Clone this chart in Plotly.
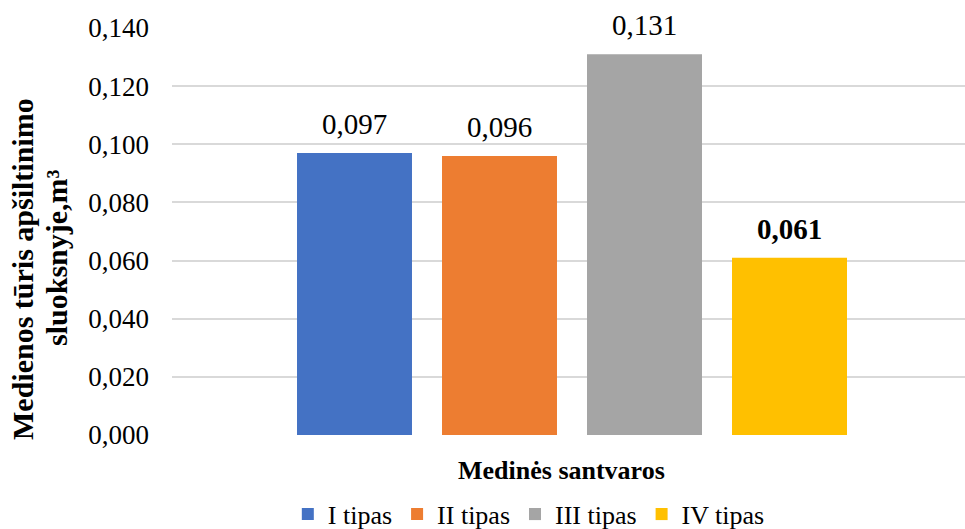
import plotly.graph_objects as go

# Data
group_title = "Medinės santvaros"
series_names = ["I tipas", "II tipas", "III tipas", "IV tipas"]
values = [0.097, 0.096, 0.131, 0.061]
colors = ["#4472C4", "#ED7D31", "#A5A5A5", "#FFC000"]
bold_label = [False, False, False, True]
y_ticks = [0.0, 0.02, 0.04, 0.06, 0.08, 0.10, 0.12, 0.14]

FONT = "Liberation Serif"
BAR_WIDTH = 0.793  # fraction of each series slot

fig = go.Figure()
annotations = []
for i, (name, v, c, b) in enumerate(zip(series_names, values, colors, bold_label)):
    fig.add_trace(go.Bar(
        name=name,
        x=[i],
        y=[v],
        width=BAR_WIDTH,
        marker=dict(color=c, line=dict(width=0)),
        hoverinfo="name+y",
    ))
    label = f"{v:.3f}".replace(".", ",")
    annotations.append(dict(
        text=f"<b>{label}</b>" if b else label,
        x=i, y=v, xref="x", yref="y",
        showarrow=False, xanchor="center", yanchor="bottom", yshift=11,
        font=dict(family=FONT, size=29, color="#000000"),
    ))

annotations += [
    dict(text=f"<b>{group_title}</b>", xref="paper", yref="paper",
         x=(561 - 172) / 793, y=-(470 - 435) / 407, showarrow=False,
         xanchor="center", yanchor="middle",
         font=dict(family=FONT, size=26)),
    dict(text="<b>Medienos tūris apšiltinimo</b>", xref="paper", yref="paper",
         x=(22 - 172) / 793, y=(435 - 269) / 407, showarrow=False,
         textangle=-90, xanchor="center", yanchor="middle",
         font=dict(family=FONT, size=30)),
    dict(text="<b>sluoksnyje,m³</b>", xref="paper", yref="paper",
         x=(56 - 172) / 793, y=(435 - 258) / 407, showarrow=False,
         textangle=-90, xanchor="center", yanchor="middle",
         font=dict(family=FONT, size=30)),
]

fig.update_layout(
    width=965, height=529,
    margin=dict(l=172, r=0, t=28, b=94),
    paper_bgcolor="white", plot_bgcolor="white",
    separators=", ",
    barmode="overlay",
    font=dict(family=FONT, size=26, color="#000000"),
    showlegend=True,
    legend=dict(
        orientation="h",
        xref="container", yref="container",
        x=0.548, xanchor="center",
        y=0.028, yanchor="middle",
        font=dict(family=FONT, size=26),
        itemwidth=30,
        traceorder="normal",
    ),
    xaxis=dict(
        range=[-1.2586, 4.2103],
        showticklabels=False,
        showgrid=False,
        zeroline=False,
        showline=False,
        ticks="",
    ),
    yaxis=dict(
        range=[0, 0.14],
        tickvals=y_ticks,
        tickformat=".3f",
        showgrid=True,
        gridcolor="#D9D9D9",
        gridwidth=1.5,
        zeroline=False,
        showline=False,
        ticks="",
        ticklabelstandoff=22,
        tickfont=dict(family=FONT, size=27),
    ),
    annotations=annotations,
)

fig.write_html("out.html")
